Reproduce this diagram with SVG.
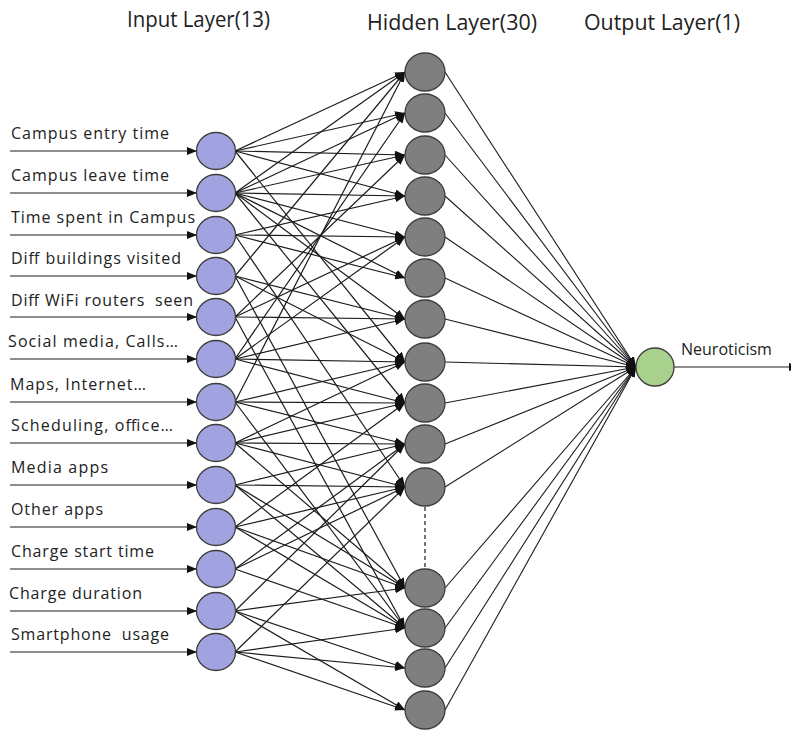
<svg xmlns="http://www.w3.org/2000/svg" width="791" height="730" viewBox="0 0 791 730">
<defs>
<marker id="ah" markerUnits="userSpaceOnUse" markerWidth="10" markerHeight="8" viewBox="0 0 10 8" refX="10" refY="4" orient="auto"><path d="M0,0 L10,4 L0,8 z" fill="#111"/></marker>
<style>
.c{stroke:#1c1c1c;stroke-width:1.2;fill:none;marker-end:url(#ah)}
.o{stroke:#1c1c1c;stroke-width:1.1;fill:none;marker-end:url(#ah)}
.in{fill:#a0a3df;stroke:#3d3d3d;stroke-width:1.3}
.hid{fill:#7f7f7f;stroke:#3d3d3d;stroke-width:1.3}
.out{fill:#a9d18e;stroke:#3d3d3d;stroke-width:1.3}
.h{font-family:"Open Sans","Liberation Sans",sans-serif;font-size:21px;fill:#222}
.l{font-family:"Open Sans","Liberation Sans",sans-serif;font-size:16px;fill:#222;white-space:pre}
</style>
</defs>
<rect width="791" height="730" fill="#fff"/>
<g id="titles">
<text class="h" x="127" y="27" textLength="143" lengthAdjust="spacingAndGlyphs">Input Layer(13)</text>
<text class="h" x="367" y="30" textLength="170" lengthAdjust="spacingAndGlyphs">Hidden Layer(30)</text>
<text class="h" x="584" y="30" textLength="156" lengthAdjust="spacingAndGlyphs">Output Layer(1)</text>
</g>
<g id="connectors">
<line class="c" x1="10" y1="151" x2="197" y2="151"/>
<line class="c" x1="10" y1="193" x2="197" y2="193"/>
<line class="c" x1="10" y1="235" x2="197" y2="235"/>
<line class="c" x1="10" y1="276" x2="197" y2="276"/>
<line class="c" x1="10" y1="317" x2="197" y2="317"/>
<line class="c" x1="10" y1="359" x2="197" y2="359"/>
<line class="c" x1="10" y1="402" x2="197" y2="402"/>
<line class="c" x1="10" y1="443" x2="197" y2="443"/>
<line class="c" x1="10" y1="485" x2="197" y2="485"/>
<line class="c" x1="10" y1="527" x2="197" y2="527"/>
<line class="c" x1="10" y1="569" x2="197" y2="569"/>
<line class="c" x1="10" y1="611" x2="197" y2="611"/>
<line class="c" x1="10" y1="652" x2="197" y2="652"/>
<line class="c" x1="235" y1="151" x2="405" y2="72"/>
<line class="c" x1="235" y1="151" x2="405" y2="113"/>
<line class="c" x1="235" y1="151" x2="405" y2="155"/>
<line class="c" x1="235" y1="151" x2="405" y2="196"/>
<line class="c" x1="235" y1="151" x2="405" y2="362"/>
<line class="c" x1="235" y1="193" x2="405" y2="72"/>
<line class="c" x1="235" y1="193" x2="405" y2="113"/>
<line class="c" x1="235" y1="193" x2="405" y2="155"/>
<line class="c" x1="235" y1="193" x2="405" y2="196"/>
<line class="c" x1="235" y1="193" x2="405" y2="237"/>
<line class="c" x1="235" y1="193" x2="405" y2="278"/>
<line class="c" x1="235" y1="193" x2="405" y2="319"/>
<line class="c" x1="235" y1="193" x2="405" y2="403"/>
<line class="c" x1="235" y1="235" x2="405" y2="196"/>
<line class="c" x1="235" y1="235" x2="405" y2="237"/>
<line class="c" x1="235" y1="235" x2="405" y2="278"/>
<line class="c" x1="235" y1="235" x2="405" y2="487"/>
<line class="c" x1="235" y1="276" x2="405" y2="72"/>
<line class="c" x1="235" y1="276" x2="405" y2="319"/>
<line class="c" x1="235" y1="276" x2="405" y2="362"/>
<line class="c" x1="235" y1="276" x2="405" y2="588"/>
<line class="c" x1="235" y1="317" x2="405" y2="155"/>
<line class="c" x1="235" y1="317" x2="405" y2="237"/>
<line class="c" x1="235" y1="317" x2="405" y2="319"/>
<line class="c" x1="235" y1="317" x2="405" y2="628"/>
<line class="c" x1="235" y1="359" x2="405" y2="113"/>
<line class="c" x1="235" y1="359" x2="405" y2="237"/>
<line class="c" x1="235" y1="359" x2="405" y2="319"/>
<line class="c" x1="235" y1="359" x2="405" y2="362"/>
<line class="c" x1="235" y1="359" x2="405" y2="403"/>
<line class="c" x1="235" y1="402" x2="405" y2="72"/>
<line class="c" x1="235" y1="402" x2="405" y2="362"/>
<line class="c" x1="235" y1="402" x2="405" y2="403"/>
<line class="c" x1="235" y1="402" x2="405" y2="444"/>
<line class="c" x1="235" y1="402" x2="405" y2="628"/>
<line class="c" x1="235" y1="443" x2="405" y2="362"/>
<line class="c" x1="235" y1="443" x2="405" y2="403"/>
<line class="c" x1="235" y1="443" x2="405" y2="444"/>
<line class="c" x1="235" y1="443" x2="405" y2="487"/>
<line class="c" x1="235" y1="443" x2="405" y2="588"/>
<line class="c" x1="235" y1="485" x2="405" y2="444"/>
<line class="c" x1="235" y1="485" x2="405" y2="487"/>
<line class="c" x1="235" y1="485" x2="405" y2="588"/>
<line class="c" x1="235" y1="485" x2="405" y2="628"/>
<line class="c" x1="235" y1="527" x2="405" y2="403"/>
<line class="c" x1="235" y1="527" x2="405" y2="487"/>
<line class="c" x1="235" y1="527" x2="405" y2="588"/>
<line class="c" x1="235" y1="527" x2="405" y2="628"/>
<line class="c" x1="235" y1="569" x2="405" y2="444"/>
<line class="c" x1="235" y1="569" x2="405" y2="487"/>
<line class="c" x1="235" y1="569" x2="405" y2="628"/>
<line class="c" x1="235" y1="611" x2="405" y2="444"/>
<line class="c" x1="235" y1="611" x2="405" y2="588"/>
<line class="c" x1="235" y1="611" x2="405" y2="668"/>
<line class="c" x1="235" y1="611" x2="405" y2="710"/>
<line class="c" x1="235" y1="652" x2="405" y2="487"/>
<line class="c" x1="235" y1="652" x2="405" y2="628"/>
<line class="c" x1="235" y1="652" x2="405" y2="668"/>
<line class="c" x1="235" y1="652" x2="405" y2="710"/>
<line class="o" x1="445" y1="72" x2="636" y2="367"/>
<line class="o" x1="445" y1="113" x2="636" y2="367"/>
<line class="o" x1="445" y1="155" x2="636" y2="367"/>
<line class="o" x1="445" y1="196" x2="636" y2="367"/>
<line class="o" x1="445" y1="237" x2="636" y2="367"/>
<line class="o" x1="445" y1="278" x2="636" y2="367"/>
<line class="o" x1="445" y1="319" x2="636" y2="367"/>
<line class="o" x1="445" y1="362" x2="636" y2="367"/>
<line class="o" x1="445" y1="403" x2="636" y2="367"/>
<line class="o" x1="445" y1="444" x2="636" y2="367"/>
<line class="o" x1="445" y1="487" x2="636" y2="367"/>
<line class="o" x1="445" y1="588" x2="636" y2="367"/>
<line class="o" x1="445" y1="628" x2="636" y2="367"/>
<line class="o" x1="445" y1="668" x2="636" y2="367"/>
<line class="o" x1="445" y1="710" x2="636" y2="367"/>
<line class="c" x1="674" y1="367" x2="799" y2="367"/>
<line x1="425" y1="507" x2="425" y2="567" stroke="#1c1c1c" stroke-width="1.2" stroke-dasharray="4,3"/>
</g>
<g id="input-nodes">
<g id="in1"><ellipse class="in" cx="216" cy="151" rx="19.5" ry="18.5"/><text class="l" x="11" y="139" textLength="158">Campus entry time</text></g>
<g id="in2"><ellipse class="in" cx="216" cy="193" rx="19.5" ry="18.5"/><text class="l" x="11" y="181" textLength="158">Campus leave time</text></g>
<g id="in3"><ellipse class="in" cx="216" cy="235" rx="19.5" ry="18.5"/><text class="l" x="11" y="223" textLength="184">Time spent in Campus</text></g>
<g id="in4"><ellipse class="in" cx="216" cy="276" rx="19.5" ry="18.5"/><text class="l" x="11" y="264" textLength="170">Diff buildings visited</text></g>
<g id="in5"><ellipse class="in" cx="216" cy="317" rx="19.5" ry="18.5"/><text class="l" x="11" y="306" textLength="182" xml:space="preserve">Diff WiFi routers  seen</text></g>
<g id="in6"><ellipse class="in" cx="216" cy="359" rx="19.5" ry="18.5"/><text class="l" x="8" y="347" textLength="170">Social media, Calls…</text></g>
<g id="in7"><ellipse class="in" cx="216" cy="402" rx="19.5" ry="18.5"/><text class="l" x="10" y="390" textLength="136">Maps, Internet…</text></g>
<g id="in8"><ellipse class="in" cx="216" cy="443" rx="19.5" ry="18.5"/><text class="l" x="11" y="431" textLength="162">Scheduling, office…</text></g>
<g id="in9"><ellipse class="in" cx="216" cy="485" rx="19.5" ry="18.5"/><text class="l" x="11" y="473" textLength="97">Media apps</text></g>
<g id="in10"><ellipse class="in" cx="216" cy="527" rx="19.5" ry="18.5"/><text class="l" x="11" y="515" textLength="92">Other apps</text></g>
<g id="in11"><ellipse class="in" cx="216" cy="569" rx="19.5" ry="18.5"/><text class="l" x="11" y="557" textLength="143">Charge start time</text></g>
<g id="in12"><ellipse class="in" cx="216" cy="611" rx="19.5" ry="18.5"/><text class="l" x="9" y="599" textLength="133">Charge duration</text></g>
<g id="in13"><ellipse class="in" cx="216" cy="652" rx="19.5" ry="18.5"/><text class="l" x="11" y="640" textLength="158" xml:space="preserve">Smartphone  usage</text></g>
</g>
<g id="hidden-nodes">
<g id="h1"><ellipse class="hid" cx="425" cy="72" rx="20" ry="19"/></g>
<g id="h2"><ellipse class="hid" cx="425" cy="113" rx="20" ry="19"/></g>
<g id="h3"><ellipse class="hid" cx="425" cy="155" rx="20" ry="19"/></g>
<g id="h4"><ellipse class="hid" cx="425" cy="196" rx="20" ry="19"/></g>
<g id="h5"><ellipse class="hid" cx="425" cy="237" rx="20" ry="19"/></g>
<g id="h6"><ellipse class="hid" cx="425" cy="278" rx="20" ry="19"/></g>
<g id="h7"><ellipse class="hid" cx="425" cy="319" rx="20" ry="19"/></g>
<g id="h8"><ellipse class="hid" cx="425" cy="362" rx="20" ry="19"/></g>
<g id="h9"><ellipse class="hid" cx="425" cy="403" rx="20" ry="19"/></g>
<g id="h10"><ellipse class="hid" cx="425" cy="444" rx="20" ry="19"/></g>
<g id="h11"><ellipse class="hid" cx="425" cy="487" rx="20" ry="19"/></g>
<g id="h27"><ellipse class="hid" cx="425" cy="588" rx="20" ry="19"/></g>
<g id="h28"><ellipse class="hid" cx="425" cy="628" rx="20" ry="19"/></g>
<g id="h29"><ellipse class="hid" cx="425" cy="668" rx="20" ry="19"/></g>
<g id="h30"><ellipse class="hid" cx="425" cy="710" rx="20" ry="19"/></g>
</g>
<g id="output-node">
<ellipse class="out" cx="655" cy="367" rx="19" ry="19"/>
<text class="l" x="681" y="355">Neuroticism</text>
</g>
</svg>
